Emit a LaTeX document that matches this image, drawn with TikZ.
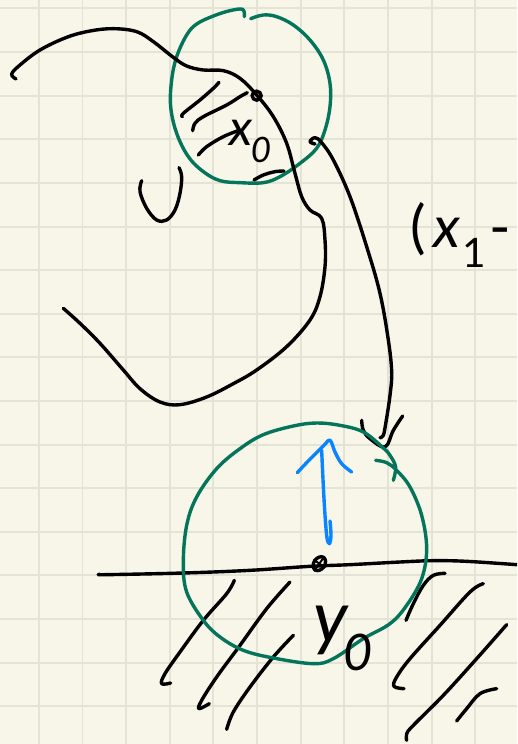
\documentclass[tikz,border=0pt]{standalone}
\usepackage{fontspec}
\usepackage{xcolor}
\usetikzlibrary{shapes.geometric}
\newfontfamily\inkfont{Lato}
\definecolor{paperbg}{HTML}{F7F6E9}
\definecolor{gridln}{HTML}{E3E3D6}
\definecolor{ringgreen}{HTML}{04745A}
\definecolor{arrowblue}{HTML}{0A84FF}

\begin{document}
\begin{tikzpicture}[
    x=1pt,
    y=-1pt,
    gridline/.style={draw=gridln, line width=1.5pt},
    ink/.style={draw=black, line width=3.4pt, line cap=round, line join=round},
    ring/.style={draw=ringgreen, line width=3.4pt, line cap=round, line join=round},
    bluepen/.style={draw=arrowblue, line width=3.4pt, line cap=round, line join=round},
    dotmark/.style={draw=black, line width=3.4pt, inner sep=0pt},
    handlabel/.style={font=\inkfont\itshape, text=black, inner sep=0pt},
    topzoom/.style={x=0.33333pt, y=-0.33333pt},
    lowzoom/.style={x=0.33333pt, y=-0.33333pt, shift={(0pt,-372pt)}}
]
\useasboundingbox (0,0) rectangle (517,744);
\clip (0,0) rectangle (517,744);
\fill[paperbg] (0,0) rectangle (517,744);

% paper grid
\foreach \gx in {39,82.5,126,170,213,257,301,344,388,432,475}
    \draw[gridline] (\gx,0) -- (\gx,744);
\foreach \gy in {8,52,96,139,183,227,270,314,357,401,445,488,532,575,619,663,706}
    \draw[gridline] (0,\gy) -- (517,\gy);

% upper sketch
\begin{scope}[topzoom]
\draw[ring] plot[smooth, tension=0.6] coordinates {(733,50) (728,28) (690,32) (640,48) (590,72) (560,105) (530,170) (515,240) (512,320) (530,400) (565,470) (610,515) (660,542) (720,548) (790,548) (840,530) (900,490) (950,445) (975,390) (990,320) (990,250) (970,180) (930,120) (880,75) (830,50) (790,45) (752,56)};
\draw[ink] plot[smooth, tension=0.6] coordinates {(48,237) (35,222) (60,195) (120,150) (200,112) (270,93) (340,86) (410,95) (460,125) (520,172) (560,198) (610,210) (670,212) (720,235) (770,285) (820,350) (860,430) (885,520) (905,590) (930,630) (965,655) (975,720) (975,800) (960,890) (930,960) (860,1040) (770,1110) (700,1151) (620,1191) (540,1214) (480,1206) (420,1166) (370,1110) (300,1030) (240,970) (190,925)};
\draw[ink] plot[smooth, tension=0.6] coordinates {(425,542) (420,575) (440,625) (470,660) (500,660) (525,630) (540,580) (545,530) (537,503)};
% hatching
\draw[ink] plot[smooth, tension=0.6] coordinates {(547,350) (550,340) (600,300) (640,265) (657,247)};
\draw[ink] plot[smooth, tension=0.6] coordinates {(578,392) (585,370) (610,350) (680,315) (720,290) (742,278)};
\draw[ink] plot[smooth, tension=0.6] coordinates {(595,465) (620,440) (670,410) (720,390)};
\draw[ink] plot[smooth, tension=0.6] coordinates {(762,540) (790,525) (825,515) (852,513)};
\node[dotmark, circle, minimum size=9pt] (xdot) at (770,287) {};
\node[handlabel, font=\inkfont\itshape\fontsize{50}{50}\selectfont] (xlabel) at (752,425) {x\kern-2pt\textsubscript{0}};
\node[handlabel, font=\inkfont\fontsize{58}{58}\selectfont, anchor=west] (rightlabel) at (1232,705) {(\kern7pt\textit{x}\kern2pt\textsubscript{1}\kern3pt-};
% long curve into the lower ring
\draw[ink] plot[smooth, tension=0.6] coordinates {(945,432) (930,425) (945,413) (965,428) (1000,480) (1050,590) (1100,740) (1140,880) (1165,1020) (1175,1116) (1170,1186) (1158,1266) (1150,1306) (1140,1313)};
\end{scope}

% lower sketch
\begin{scope}[lowzoom]
\draw[ink] plot[smooth, tension=0.6] coordinates {(300,607) (320,608) (550,603) (750,595) (930,583) (1050,578) (1200,570) (1300,566) (1400,568) (1550,578)};
\draw[ink] plot[smooth, tension=0.6] coordinates {(703,625) (680,665) (610,745) (540,840) (495,905) (485,935) (512,933)};
\draw[ink] plot[smooth, tension=0.6] coordinates {(870,630) (800,710) (720,820) (650,915) (605,985) (597,1010) (628,995)};
\draw[ink] plot[smooth, tension=0.6] coordinates {(880,790) (820,855) (750,945) (700,1020) (680,1072)};
\draw[ink] plot[smooth, tension=0.6] coordinates {(1335,604) (1300,610) (1270,640) (1240,695) (1218,745)};
\draw[ink] plot[smooth, tension=0.6] coordinates {(1450,635) (1410,660) (1320,760) (1230,860) (1190,915) (1182,943) (1212,950)};
\draw[ink] plot[smooth, tension=0.6] coordinates {(1520,758) (1430,860) (1330,970) (1240,1060) (1220,1085) (1220,1105)};
\draw[ink] plot[smooth, tension=0.6] coordinates {(1490,950) (1440,965) (1400,1010) (1370,1047)};
% hand drawn arrow head
\draw[ink] plot[smooth, tension=0.6] coordinates {(1085,145) (1090,175) (1110,200) (1155,225) (1180,175) (1208,132)};
\draw[ring] plot[smooth, tension=0.6] coordinates {(1180,325) (1187,285) (1170,250) (1150,228) (1090,180) (1020,160) (950,153) (880,162) (790,188) (720,230) (650,290) (590,375) (560,460) (550,570) (560,660) (610,745) (660,795) (730,835) (820,858) (940,875) (1000,860) (1090,800) (1170,755) (1220,700) (1265,620) (1280,530) (1265,430) (1230,345) (1190,295) (1160,272) (1127,265)};
\draw[bluepen] plot[smooth, tension=0.6] coordinates {(990,447) (993,490) (988,515) (980,490) (972,380) (965,235)};
\draw[bluepen] plot[smooth, tension=0.6] coordinates {(892,302) (920,272) (970,222) (990,205) (1005,240) (1025,275) (1055,300)};
\node[dotmark, ellipse, rotate=-35, minimum width=11pt, minimum height=15pt] (ydot) at (958,575) {};
\draw[black, line width=2pt] (ydot.north) -- (ydot.south);
\draw[black, line width=2pt] (ydot.west) -- (ydot.east);
\node[handlabel, font=\inkfont\itshape\fontsize{72}{72}\selectfont] (ylabel) at (1030,800) {y\kern-5pt\textsubscript{0}};
\end{scope}
\end{tikzpicture}
\end{document}
